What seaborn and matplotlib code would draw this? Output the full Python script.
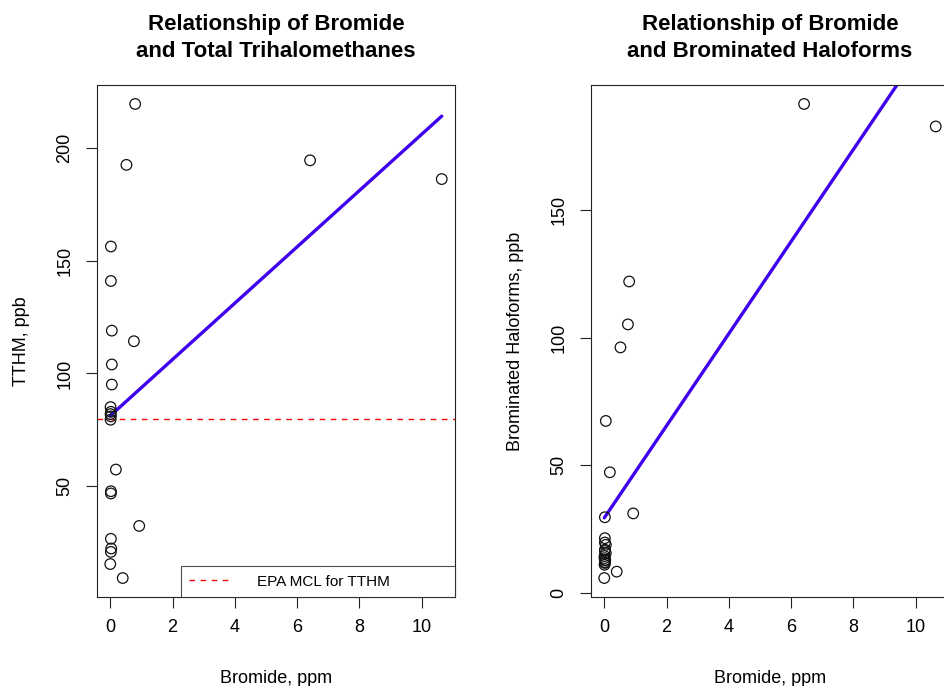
import numpy as np
import pandas as pd
import matplotlib
matplotlib.use("Agg")
import matplotlib.pyplot as plt
from matplotlib.lines import Line2D
import seaborn as sns

# ---------------- data ----------------
bromide_ppm = [0.80, 0.52, 6.42, 10.65, 0.76, 0.18, 0.93, 0.40,
               0.02, 0.02, 0.05, 0.05, 0.05, 0.01, 0.02, 0.01,
               0.02, 0.01, 0.02, 0.02, 0.02, 0.03, 0.02, 0.00]
tthm_ppb = [219.5, 192.5, 194.5, 186.2, 114.3, 57.4, 32.4, 9.3,
            156.3, 141.0, 119.0, 104.0, 95.1, 85.1, 83.0, 82.0,
            81.0, 79.5, 47.8, 46.8, 26.7, 22.4, 20.9, 15.5]
brominated_ppb = [122.0, 96.2, 191.5, 182.7, 105.2, 47.3, 31.2, 8.4,
                  29.7, 21.5, 67.4, 18.9, 15.6, 13.7, 12.1, 11.1,
                  17.0, 14.5, 12.8, 16.5, 19.8, 13.0, 11.8, 5.9]
epa_mcl_tthm = 80
left_yticks = [50, 100, 150, 200]
right_yticks = [0, 50, 100, 150]
xticks = [0, 2, 4, 6, 8, 10]

df = pd.DataFrame({"bromide": bromide_ppm, "tthm": tthm_ppb,
                   "brominated": brominated_ppb})

# ---------------- style ----------------
sns.set_theme(style="ticks")
plt.rcParams["font.family"] = ["Liberation Sans", "DejaVu Sans"]
plt.rcParams["axes.edgecolor"] = "#222222"
plt.rcParams["axes.linewidth"] = 0.8
plt.rcParams["text.color"] = "black"
plt.rcParams["axes.labelcolor"] = "black"

LINE_COLOR = "#3f00ee"
FS = 13

fig = plt.figure(figsize=(9.44, 6.86), dpi=100)
ax1 = fig.add_axes([97 / 944, 89 / 686, 358 / 944, 512 / 686])
ax2 = fig.add_axes([591 / 944, 89 / 686, 358 / 944, 512 / 686])


def r_lim(vals):
    lo, hi = float(np.min(vals)), float(np.max(vals))
    d = 0.04 * (hi - lo)
    return lo - d, hi + d


def panel(ax, ycol, title, ylabel, yticks):
    sns.scatterplot(data=df, x="bromide", y=ycol, ax=ax, marker="o", s=58,
                    facecolors="none", edgecolor="#111111", linewidth=0.9,
                    zorder=3)
    sns.regplot(data=df, x="bromide", y=ycol, ax=ax, scatter=False, ci=None,
                truncate=True, line_kws=dict(color=LINE_COLOR, lw=2.4))
    ax.set_xlim(*r_lim(df["bromide"]))
    ax.set_ylim(*r_lim(df[ycol]))
    ax.set_xticks(xticks)
    ax.set_yticks(yticks)
    ax.tick_params(axis="both", direction="out", length=8, width=0.8,
                   labelsize=FS, colors="#222222", labelcolor="black")
    ax.tick_params(axis="x", pad=8)
    ax.tick_params(axis="y", pad=9, labelrotation=90)
    for lab in ax.get_yticklabels():
        lab.set_va("center")
    ax.set_xlabel("Bromide, ppm", fontsize=FS, labelpad=24)
    ax.set_ylabel(ylabel, fontsize=FS, labelpad=19)
    ax.set_title(title, fontsize=16, fontweight="bold", pad=20,
                 linespacing=1.36, color="black")
    for s in ax.spines.values():
        s.set_visible(True)


panel(ax1, "tthm", "Relationship of Bromide\nand Total Trihalomethanes",
      "TTHM, ppb", left_yticks)
panel(ax2, "brominated", "Relationship of Bromide\nand Brominated Haloforms",
      "Brominated Haloforms, ppb", right_yticks)

ax1.axhline(epa_mcl_tthm, color="red", lw=1.0, dashes=(4, 4), zorder=2)
handle = Line2D([], [], color="red", lw=1.0, dashes=(4, 4))
leg = ax1.legend([handle], ["EPA MCL for TTHM"], loc="lower left",
                 bbox_to_anchor=(0.2346, 0.0, 0.7654, 0.06), mode="expand",
                 borderaxespad=0, fontsize=11, fancybox=False, frameon=True,
                 handlelength=2.8, handletextpad=1.6, borderpad=0.55)
leg.get_frame().set_edgecolor("#222222")
leg.get_frame().set_linewidth(0.8)

fig.savefig("out.png", dpi=100)
